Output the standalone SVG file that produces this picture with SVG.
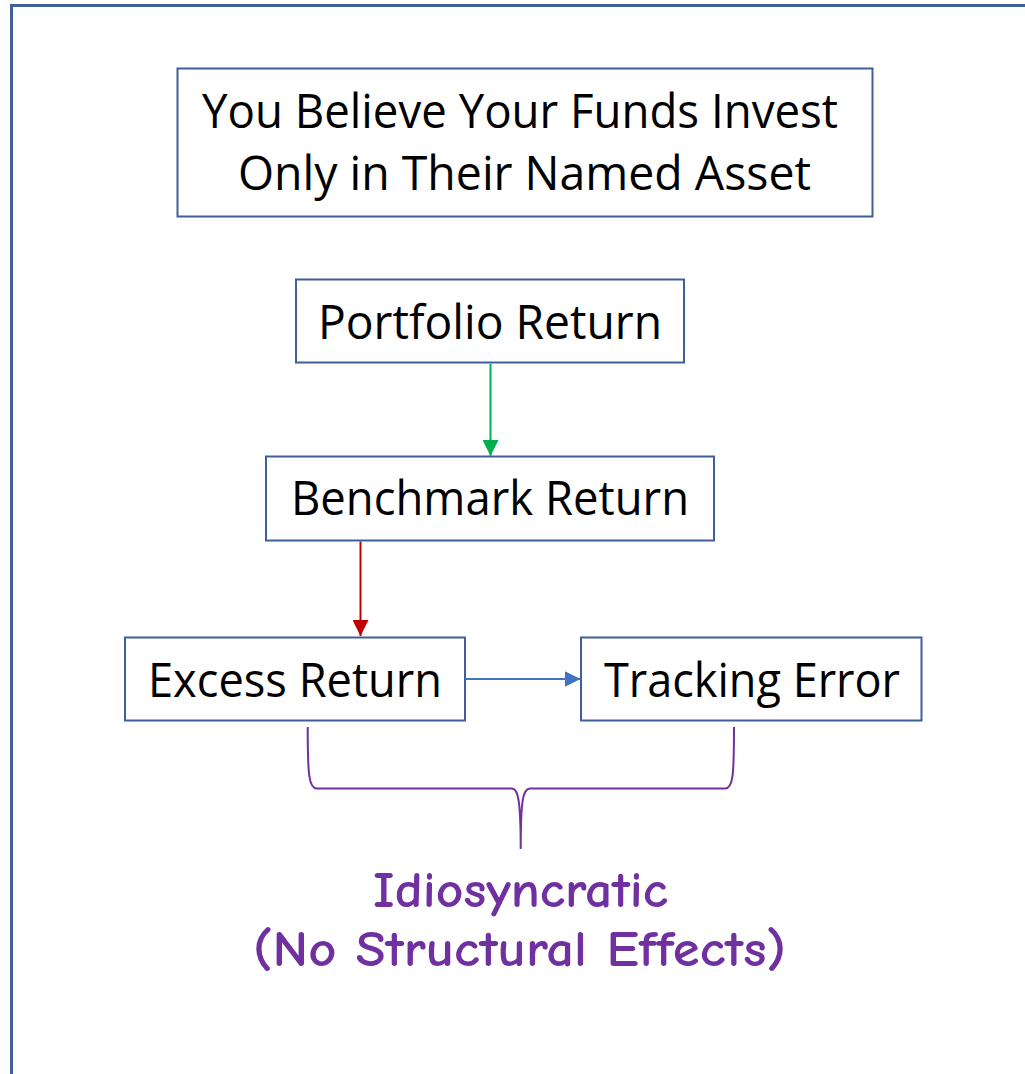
<svg xmlns="http://www.w3.org/2000/svg" width="1025" height="1074" viewBox="0 0 1025 1074">
  <style>
    .box { fill: #ffffff; stroke: #3E5F9B; stroke-width: 2; }
    .lbl { font-family: "Open Sans", "Noto Sans", "Liberation Sans", sans-serif; font-size: 48px; fill: #000000; }
    .note { font-family: "Comic Sans MS", "Comic Neue", "DejaVu Sans", sans-serif; font-size: 51px; font-weight: 700; fill: #7030A0; }
    .brace { fill: none; stroke: #7030A0; stroke-width: 2; }
  </style>
  <defs>
    <marker id="headGreen" viewBox="0 0 16 16" refX="16" refY="8" markerWidth="16" markerHeight="16" markerUnits="userSpaceOnUse" orient="auto">
      <path d="M0,0 L16,8 L0,16 Z" fill="#00B050"/>
    </marker>
    <marker id="headRed" viewBox="0 0 16 16" refX="16" refY="8" markerWidth="16" markerHeight="16" markerUnits="userSpaceOnUse" orient="auto">
      <path d="M0,0 L16,8 L0,16 Z" fill="#C00000"/>
    </marker>
    <marker id="headBlue" viewBox="0 0 16 16" refX="16" refY="8" markerWidth="16" markerHeight="16" markerUnits="userSpaceOnUse" orient="auto">
      <path d="M0,0 L16,8 L0,16 Z" fill="#4472C4"/>
    </marker>
  </defs>

  <rect width="1025" height="1074" fill="#ffffff"/>
  <!-- outer frame, running off the right and bottom edges -->
  <path d="M11.5,1080 L11.5,5.5 L1030,5.5" fill="none" stroke="#3E5F9B" stroke-width="3"/>

  <g id="title">
    <rect class="box" x="177.5" y="68.5" width="695" height="148"/>
    <text class="lbl" x="202" y="128" textLength="636" lengthAdjust="spacingAndGlyphs">You Believe Your Funds Invest</text>
    <text class="lbl" x="238" y="190" textLength="573" lengthAdjust="spacingAndGlyphs">Only in Their Named Asset</text>
  </g>

  <g id="portfolio">
    <rect class="box" x="296" y="279.5" width="388" height="83"/>
    <text class="lbl" x="318" y="339" textLength="344" lengthAdjust="spacingAndGlyphs">Portfolio Return</text>
  </g>

  <g id="benchmark">
    <rect class="box" x="266" y="456.5" width="448" height="84"/>
    <text class="lbl" x="291" y="515" textLength="398" lengthAdjust="spacingAndGlyphs">Benchmark Return</text>
  </g>

  <g id="excess">
    <rect class="box" x="125" y="637.5" width="340" height="83"/>
    <text class="lbl" x="148" y="697" textLength="294" lengthAdjust="spacingAndGlyphs">Excess Return</text>
  </g>

  <g id="tracking">
    <rect class="box" x="581" y="637.5" width="340.5" height="83"/>
    <text class="lbl" x="604" y="697" textLength="296" lengthAdjust="spacingAndGlyphs">Tracking Error</text>
  </g>

  <g id="connectors">
    <line x1="490.5" y1="363.5" x2="490.5" y2="456" stroke="#00B050" stroke-width="2" marker-end="url(#headGreen)"/>
    <line x1="360.5" y1="541.5" x2="360.5" y2="636" stroke="#C00000" stroke-width="2" marker-end="url(#headRed)"/>
    <line x1="466" y1="679" x2="580.5" y2="679" stroke="#4472C4" stroke-width="2" marker-end="url(#headBlue)"/>
  </g>

  <g id="idiosyncratic">
    <path class="brace" d="M307.7,727 C307.7,776 309,788.5 317,788.5 L512,788.5 C518,788.5 520.7,800 520.7,849 M520.7,849 C520.7,800 523,788.5 530,788.5 L725,788.5 C733,788.5 734,776 734,727"/>
    <text class="note" x="373" y="907" textLength="295" lengthAdjust="spacingAndGlyphs">Idiosyncratic</text>
    <text class="note" x="253" y="966" textLength="533" lengthAdjust="spacingAndGlyphs">(No Structural Effects)</text>
  </g>
</svg>
